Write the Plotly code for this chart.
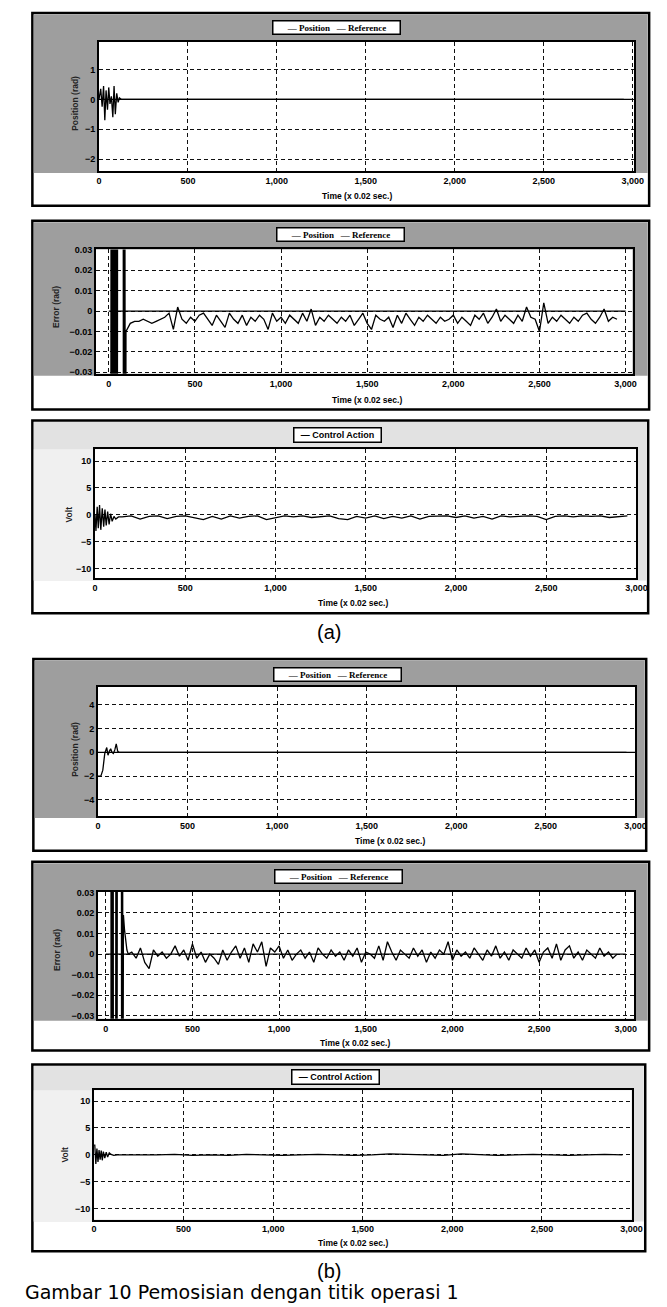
import plotly.graph_objects as go

W, H = 667, 1307

# ---------------- data ----------------
# (a) Position, first samples (rad); afterwards steady at 0
pos_a_t = [0, 10, 18, 26, 33, 40, 48, 55, 62, 70, 78, 85, 92, 100, 108, 115, 125, 140, 2950]
pos_a_y = [0, 0.35, -0.25, 0.45, -0.70, 0.30, -0.35, 0.40, -0.15, 0.10, -0.60, 0.45, -0.50, 0.20, -0.10, 0.05, 0.00, 0.00, 0.00]

# reference (rad)
ref_t = [0, 3000]
ref_y = [0, 0]

# (a) Error, first (off-scale) samples
err_a0_t = [10, 15, 20, 25, 30, 35, 40, 45, 50, 55, 82, 87, 92, 97]
err_a0_y = [-0.35, 0.25, -0.45, 0.70, -0.30, 0.35, -0.40, 0.15, -0.10, 0.60, 0.45, -0.50, 0.20, -0.20]
# (a) Error, t = 100 .. 2950, every 25 samples
err_a_start, err_a_step = 100, 25
err_a = [
    -0.010, -0.006, -0.005, -0.005, -0.004, -0.005, -0.006, -0.005, -0.004, -0.003,
    -0.001, -0.009, 0.002, -0.004, -0.006, -0.003, -0.005, -0.002, -0.001, -0.004,
    -0.007, -0.002, -0.005, -0.008, -0.001, -0.004, -0.006, -0.002, -0.007, -0.003,
    -0.005, -0.002, -0.004, -0.009, -0.001, -0.005, -0.003, -0.006, -0.002, -0.004,
    -0.006, -0.001, -0.005, 0.001, -0.007, -0.003, -0.005, -0.002, -0.004, -0.006,
    -0.003, -0.005, -0.002, -0.007, -0.004, -0.001, -0.006, -0.009, -0.002, -0.004,
    -0.005, -0.003, -0.008, -0.002, -0.006, -0.001, -0.004, -0.007, -0.003, -0.005,
    -0.002, -0.004, -0.006, -0.003, -0.005, -0.004, -0.002, -0.006, -0.003, -0.005,
    -0.007, -0.002, -0.004, -0.001, -0.006, -0.003, 0.001, -0.005, -0.002, -0.004,
    -0.006, -0.002, -0.005, 0.002, -0.003, -0.004, -0.010, 0.004, -0.006, -0.003,
    -0.005, -0.002, -0.004, -0.006, -0.003, -0.005, -0.002, -0.001, -0.004, -0.006,
    -0.003, 0.001, -0.005, -0.003, -0.004,
]

# (a) Control action (Volt)
ctrl_a0_t = [0, 5, 12, 18, 25, 32, 40, 48, 55, 62, 70, 78, 86, 95, 105, 115, 130]
ctrl_a0_y = [0, -3.0, 1.5, -2.5, 1.8, -2.8, 1.2, -2.2, 1.0, -2.0, 0.6, -1.8, 0.2, -1.2, -0.3, -0.8, -0.4]
ctrl_a_start, ctrl_a_step = 150, 50
ctrl_a = [
    -0.4, -0.2, -0.8, -0.3, -0.2, -0.7, -0.3, -0.2, -0.5, -0.9,
    -0.3, -0.8, -0.2, -0.6, -0.3, -0.2, -0.9, -0.5, -0.2, -0.4,
    -0.2, -0.5, -0.3, -0.2, -0.7, -0.9, -0.3, -0.6, -0.2, -0.7,
    -0.3, -0.6, -0.2, -0.8, -0.3, -0.2, -0.2, -0.5, -0.2, -0.6,
    -0.3, -0.8, -0.2, -0.4, -0.3, -0.2, -0.3, -0.9, -0.3, -0.2,
    -0.4, -0.2, -0.3, -0.2, -0.5, -0.3, -0.2,
]

# (b) Position
pos_b_t = [0, 16, 27, 38, 49, 56, 64, 71, 78, 86, 94, 102, 110, 117, 2950]
pos_b_y = [-2.0, -2.0, -1.5, -0.1, 0.4, -0.25, 0.1, 0.3, 0.0, -0.1, 0.2, 0.7, 0.1, 0.0, 0.0]

# (b) Error
err_b0_t = [0, 28, 31, 34, 38, 42, 45, 56, 60, 64, 68, 90, 93, 96, 99, 102, 108, 115, 122, 130]
err_b0_y = [2.0, 1.5, -0.4, 0.1, -0.4, 0.3, -0.35, -0.25, 0.3, -0.2, 0.2, 0.1, -0.3, 0.2, -0.1, 0.019, 0.012, 0.006, 0.002, 0.0]
err_b_start, err_b_step = 150, 25
err_b = [
    0.001, -0.002, 0.003, -0.004, -0.007, 0.002, -0.001, 0.001, -0.002, 0.000,
    0.004, -0.001, 0.002, -0.003, 0.005, -0.002, 0.001, -0.004, 0.000, -0.002,
    -0.005, 0.002, -0.003, 0.001, 0.004, -0.002, 0.003, -0.004, 0.005, 0.001,
    0.006, -0.006, 0.003, 0.001, 0.004, -0.002, 0.002, -0.003, 0.000, 0.002,
    -0.002, 0.001, -0.004, 0.003, 0.000, -0.002, 0.002, -0.001, 0.001, -0.003,
    0.002, -0.001, 0.003, -0.004, 0.001, 0.000, -0.002, 0.004, -0.003, 0.006,
    0.001, -0.003, 0.002, 0.000, -0.002, 0.003, -0.001, 0.002, -0.004, 0.001,
    -0.002, 0.002, 0.000, 0.006, -0.003, 0.002, -0.001, 0.001, -0.002, 0.003,
    0.000, -0.003, 0.002, -0.001, 0.004, -0.002, 0.001, -0.003, 0.002, 0.000,
    -0.002, 0.003, -0.001, 0.002, -0.004, 0.001, 0.003, -0.002, 0.005, -0.003,
    0.002, 0.004, -0.002, 0.001, -0.003, 0.002, 0.000, -0.002, 0.003, -0.001,
    0.001, -0.002, 0.000,
]

# (b) Control action
ctrl_b0_t = [0, 4, 10, 16, 22, 28, 34, 40, 46, 52, 60, 68, 76, 85, 95, 110, 130]
ctrl_b0_y = [1.8, 1.8, -1.7, 1.2, -1.3, 0.9, -0.9, 0.8, -1.0, 0.6, -0.6, 0.5, -0.4, 0.4, 0.1, -0.1, 0.0]
ctrl_b_start, ctrl_b_step = 150, 100
ctrl_b = [
    0.0, -0.1, 0.0, 0.1, -0.1, 0.0, -0.1, 0.1, 0.0, -0.1,
    0.0, 0.1, 0.0, -0.1, 0.0, 0.2, 0.1, 0.0, -0.1, 0.2,
    0.0, -0.1, 0.0, 0.1, 0.0, -0.1, 0.0, 0.1, 0.0,
]

x_ticks = [0, 500, 1000, 1500, 2000, 2500, 3000]
x_title = "Time (x 0.02 sec.)"
caption = "Gambar 10 Pemosisian dengan titik operasi 1"


def sampled(start, step, vals):
    return [start + i * step for i in range(len(vals))]


# ---------------- layout helpers ----------------
def fx(p):
    return p / W


def fy(p):
    return 1 - p / H


SANS = "Liberation Sans"
SERIF = "Liberation Serif"

panels = [
    dict(plot=(98, 645, 38, 168), frame=(30, 660, 9, 203), xr=[0, 3010], yr=[-2.4, 1.93], dt=1,
         dark=True, leg="pr", legc=(341, 24), xt=(362, 193), yt=("Position (rad)", 74, 100)),
    dict(plot=(95, 643, 247, 372), frame=(30, 660, 218, 408), xr=[-74, 3040], yr=[-0.0307, 0.0302], dt=0.01,
         dark=True, leg="pr", legc=(345, 232), xt=(372, 398), yt=("Error (rad)", 54, 305)),
    dict(plot=(94, 647, 448, 578), frame=(30, 659, 419, 613), xr=[0, 3000], yr=[-11.85, 12.2], dt=5,
         dark=False, leg="ca", legc=(342, 434), xt=(357, 603), yt=("Volt", 67, 514)),
    dict(plot=(97, 646, 687, 817), frame=(31, 657, 659, 852), xr=[0, 3000], yr=[-5.35, 5.5], dt=2,
         dark=True, leg="pr", legc=(342, 675), xt=(395, 842), yt=("Position (rad)", 74, 750)),
    dict(plot=(97, 645, 893, 1021), frame=(30, 660, 863, 1053), xr=[-45, 3050], yr=[-0.0314, 0.0304], dt=0.01,
         dark=True, leg="pr", legc=(343, 878), xt=(360, 1045), yt=("Error (rad)", 55, 952)),
    dict(plot=(93, 642, 1093, 1223), frame=(30, 656, 1067, 1255), xr=[0, 3000], yr=[-12.0, 12.0], dt=5,
         dark=False, leg="ca", legc=(340, 1080), xt=(357, 1247), yt=("Volt", 63, 1158)),
]

series = [
    [("Position", pos_a_t, pos_a_y), ("Reference", ref_t, ref_y)],
    [("Position", err_a0_t + sampled(err_a_start, err_a_step, err_a), err_a0_y + err_a), ("Reference", ref_t, ref_y)],
    [("Control Action", ctrl_a0_t + sampled(ctrl_a_start, ctrl_a_step, ctrl_a), ctrl_a0_y + ctrl_a)],
    [("Position", pos_b_t, pos_b_y), ("Reference", ref_t, ref_y)],
    [("Position", err_b0_t + sampled(err_b_start, err_b_step, err_b), err_b0_y + err_b), ("Reference", ref_t, ref_y)],
    [("Control Action", ctrl_b0_t + sampled(ctrl_b_start, ctrl_b_step, ctrl_b), ctrl_b0_y + ctrl_b)],
]

fig = go.Figure()
shapes, annotations = [], []
layout = dict(width=W, height=H, margin=dict(l=0, r=0, t=0, b=0),
              paper_bgcolor="white", plot_bgcolor="rgba(0,0,0,0)", showlegend=False)

for i, (p, ser) in enumerate(zip(panels, series), start=1):
    xa = "x" if i == 1 else f"x{i}"
    ya = "y" if i == 1 else f"y{i}"
    l, r, t, b = p["plot"]
    fl, fr, ft, fb = p["frame"]
    shapes.append(dict(type="rect", xref="paper", yref="paper", x0=fx(fl), x1=fx(fr), y0=fy(fb), y1=fy(ft),
                       fillcolor="white", line=dict(color="black", width=2.5), layer="below"))
    gray = "#9e9e9e" if p["dark"] else "#e2e2e2"
    shapes.append(dict(type="rect", xref="paper", yref="paper", x0=fx(fl + 1.5), x1=fx(fr - 1.5),
                       y0=fy(b + 2), y1=fy(ft + 1.5), fillcolor=gray, line=dict(width=0), layer="below"))
    if not p["dark"]:
        shapes.append(dict(type="rect", xref="paper", yref="paper", x0=fx(fl + 1.5), x1=fx(l),
                           y0=fy(b + 2), y1=fy(t), fillcolor="#f0f0f0", line=dict(width=0), layer="below"))
    shapes.append(dict(type="rect", xref="paper", yref="paper", x0=fx(l), x1=fx(r), y0=fy(b), y1=fy(t),
                       fillcolor="white", line=dict(width=0), layer="below"))

    axcommon = dict(showline=True, linecolor="black", linewidth=2, mirror=True,
                    showgrid=True, gridcolor="#111111", gridwidth=1, griddash="4px,3px",
                    zeroline=False, ticks="", tickfont=dict(family=SANS, size=9, color="black", weight="bold"))
    layout["xaxis" if i == 1 else f"xaxis{i}"] = dict(
        axcommon, domain=[fx(l), fx(r)], range=p["xr"], anchor=ya,
        tickmode="array", tickvals=x_ticks, tickformat=",d")
    layout["yaxis" if i == 1 else f"yaxis{i}"] = dict(
        axcommon, domain=[fy(b), fy(t)], range=p["yr"], anchor=xa, dtick=p["dt"], tick0=0)

    for name, xs, ys in ser:
        fig.add_trace(go.Scatter(x=xs, y=ys, mode="lines", name=name, xaxis=xa, yaxis=ya,
                                 line=dict(color="black", width=1.3), cliponaxis=True))

    cx, cy = p["legc"]
    if p["leg"] == "pr":
        annotations.append(dict(xref="paper", yref="paper", x=fx(cx), y=fy(cy), xanchor="center", yanchor="middle",
                                text="<b>— Position   — Reference</b>", showarrow=False,
                                font=dict(family=SERIF, size=9, color="black"),
                                bgcolor="white", bordercolor="black", borderwidth=1.5, borderpad=1,
                                width=124, height=10))
    else:
        annotations.append(dict(xref="paper", yref="paper", x=fx(cx), y=fy(cy), xanchor="center", yanchor="middle",
                                text="<b>— Control Action</b>", showarrow=False,
                                font=dict(family=SANS, size=9, color="black"),
                                bgcolor="white", bordercolor="black", borderwidth=1.5, borderpad=1,
                                width=84, height=11))
    tx, ty = p["xt"]
    annotations.append(dict(xref="paper", yref="paper", x=fx(tx), y=fy(ty), xanchor="center", yanchor="middle",
                            text=f"<b>{x_title}</b>", showarrow=False,
                            font=dict(family=SANS, size=8.5, color="black")))
    ytxt, yx, yy = p["yt"]
    annotations.append(dict(xref="paper", yref="paper", x=fx(yx), y=fy(yy), xanchor="center", yanchor="middle",
                            text=f"<b>{ytxt}</b>", showarrow=False, textangle=-90,
                            font=dict(family=SANS, size=8.5, color="#222222")))

annotations.append(dict(xref="paper", yref="paper", x=fx(333), y=fy(632), xanchor="center", yanchor="middle",
                        text="(a)", showarrow=False, font=dict(family=SANS, size=20, color="black")))
annotations.append(dict(xref="paper", yref="paper", x=fx(333), y=fy(1275), xanchor="center", yanchor="middle",
                        text="(b)", showarrow=False, font=dict(family=SANS, size=20, color="black")))
annotations.append(dict(xref="paper", yref="paper", x=fx(20), y=fy(1296), xanchor="left", yanchor="middle",
                        text=caption, showarrow=False, font=dict(family="DejaVu Sans", size=19, color="black")))

layout["shapes"] = shapes
layout["annotations"] = annotations
fig.update_layout(**layout)
fig.write_html("out.html")
